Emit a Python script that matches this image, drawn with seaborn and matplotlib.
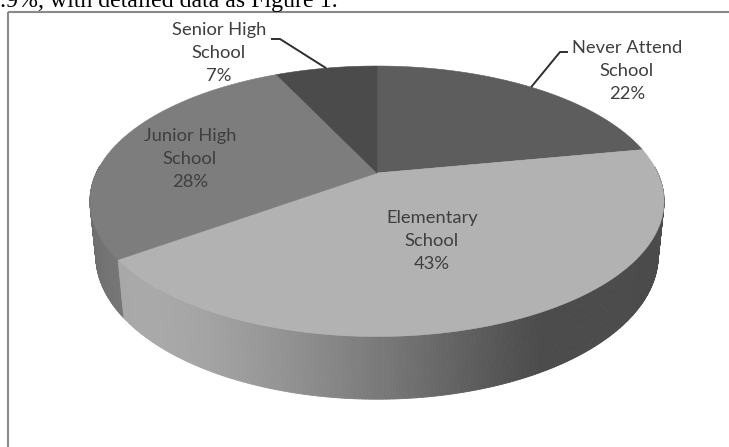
import numpy as np
import matplotlib
matplotlib.use("Agg")
import matplotlib.pyplot as plt
from matplotlib.patches import Polygon, Rectangle
from matplotlib.collections import PolyCollection
import seaborn as sns

# Education level of respondents
categories = ["Never Attend\nSchool", "Elementary\nSchool", "Junior High\nSchool", "Senior High\nSchool"]
shares = [22, 43, 28, 7]
slice_colors = ["#5d5d5d", "#b2b2b2", "#7d7d7d", "#4b4b4b"]
caption = ".9%, with detailed data as Figure 1."

sns.set_theme(style="white")
plt.rcParams["font.family"] = ["Lato", "DejaVu Sans"]

W, H = 729, 447
fig = plt.figure(figsize=(W / 100, H / 100), dpi=100)
ax = fig.add_axes([0, 0, 1, 1])
ax.set_xlim(0, W)
ax.set_ylim(H, 0)
ax.axis("off")

# perspective camera looking down on a unit-radius disc
elev = np.radians(26.7)
dist = 4.36
thick = 0.19
cx, cy = 377, 173
sx, sy = 1200, 1336
apex_up = thick * np.cos(elev) / (dist - thick * np.sin(elev))


def project(X, Y, Z):
    depth = dist + Y * np.cos(elev) - Z * np.sin(elev)
    up = Y * np.sin(elev) + Z * np.cos(elev)
    return cx + sx * X / depth, cy - sy * (up / depth - apex_up)


def rim(theta_deg, z):
    t = np.radians(theta_deg)
    return project(np.cos(t), np.sin(t), z)


def shade(theta_deg):
    # brightest toward the front-left, falling off faster to the right
    peak = -135.0
    k = 1.2 if theta_deg > peak else 1.0
    diff = np.radians(min(90.0, k * abs(theta_deg - peak)))
    return 0.42 + 0.53 * max(0.0, np.cos(diff)) ** 1.3


# slice edges: start at 12 o'clock and run clockwise
total = float(sum(shares))
edges = 90.0 - 360.0 * np.concatenate([[0], np.cumsum(shares)]) / total

# outer wall, drawn as thin shaded strips from back to front
strips, strip_cols, strip_keys = [], [], []
for i, col in enumerate(slice_colors):
    a0, a1 = edges[i], edges[i + 1]
    n = max(2, int(abs(a0 - a1) / 0.5))
    angs = np.linspace(a0, a1, n + 1)
    base = np.array(matplotlib.colors.to_rgb(col))
    for p, q in zip(angs[:-1], angs[1:]):
        mid = 0.5 * (p + q)
        if np.sin(np.radians(mid)) > 0.05:
            continue
        x0t, y0t = rim(p, thick)
        x1t, y1t = rim(q, thick)
        x0b, y0b = rim(p, 0.0)
        x1b, y1b = rim(q, 0.0)
        strips.append([(x0t, y0t), (x1t, y1t), (x1b, y1b), (x0b, y0b)])
        strip_cols.append(np.clip(base * shade(((mid + 180) % 360) - 180), 0, 1))
        strip_keys.append(np.sin(np.radians(mid)))

order = np.argsort(strip_keys)[::-1]
walls = PolyCollection([strips[k] for k in order],
                       facecolors=[strip_cols[k] for k in order],
                       edgecolors=[strip_cols[k] for k in order],
                       linewidths=0.6, zorder=2)
ax.add_collection(walls)

# top faces
apex = project(0.0, 0.0, thick)
for i, col in enumerate(slice_colors):
    a0, a1 = edges[i], edges[i + 1]
    angs = np.linspace(a0, a1, 200)
    pts = [apex] + [rim(a, thick) for a in angs]
    ax.add_patch(Polygon(pts, closed=True, facecolor=col, edgecolor=col,
                         linewidth=0.4, zorder=3))

label_kw = dict(ha="center", va="center", fontsize=13.2, color="#3f3f3f",
                linespacing=1.56, zorder=5)
label_pos = [(627, 71), (432, 241), (190, 159), (219, 53)]
for name, v, (lx, ly) in zip(categories, shares, label_pos):
    ax.text(lx, ly, f"{name}\n{v}%", **label_kw)

# leader lines for the two outside labels
mids = 0.5 * (edges[:-1] + edges[1:])
for i, lx0, lx1, ly0 in [(0, 568, 560, 52), (3, 271, 280, 39)]:
    ex, ey = rim(mids[i], thick)
    ax.plot([lx0, lx1, ex], [ly0, ly0, ey], color="#2e2e2e", lw=1.4,
            solid_capstyle="butt", zorder=6)

# chart frame and running text above it
ax.add_patch(Rectangle((8, 12), 900, 600, fill=False, edgecolor="#8a8a8a",
                       linewidth=1.5, zorder=1, clip_on=True))
ax.text(0, 7, caption, ha="left", va="baseline", fontsize=17.2, color="black",
        family=["Liberation Serif", "DejaVu Serif"], zorder=6)

fig.savefig("out.png", dpi=100)
